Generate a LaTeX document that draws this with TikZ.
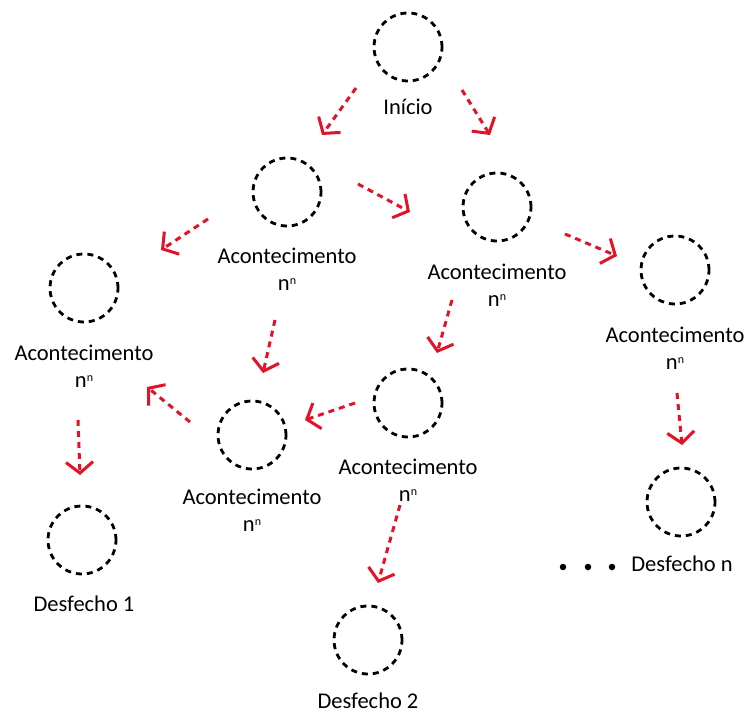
\documentclass[tikz,border=0pt]{standalone}
\usepackage{fontspec}
\setmainfont{Carlito}
\usetikzlibrary{arrows.meta,positioning}

\definecolor{vermelho}{RGB}{228,18,38}
\newcommand{\expn}{n\raisebox{.55ex}{\fontsize{12}{12}\selectfont n}}

\tikzset{
  evento/.style={circle,draw=black,line width=2.8pt,dash pattern=on 6pt off 5pt,minimum size=68pt,inner sep=0pt},
  rotulo/.style={font=\fontsize{22.5}{27}\selectfont,align=center,inner sep=0pt,anchor=north},
  seta/.style={draw=vermelho,line width=3pt,dash pattern=on 6pt off 5pt,-{Straight Barb[length=11pt,width=27pt]}},
  ponto/.style={circle,fill=black,inner sep=0pt,minimum size=6.5pt}
}

\begin{document}
\begin{tikzpicture}[x=1pt,y=-1pt]
              \useasboundingbox (0,0) rectangle (750,717);
              % eventos
              \node[evento](inicio)at(408,47){};
              \node[evento](ac1)at(287,192){};
              \node[evento](ac2)at(497,207){};
              \node[evento](ac3)at(84,288){};
              \node[evento](ac4)at(675,270){};
              \node[evento](ac5)at(408,403){};
              \node[evento](ac6)at(252,435){};
              \node[evento](des1)at(82,540){};
              \node[evento](des2)at(368,640){};
              \node[evento](desn)at(681,502){};
              % rotulos
              \node[rotulo](tinicio)at(408,99){Início};
              \node[rotulo](tac1)at(287,248){Acontecimento\\\expn};
              \node[rotulo](tac2)at(497,264){Acontecimento\\\expn};
              \node[rotulo](tac3)at(84,345){Acontecimento\\\expn};
              \node[rotulo](tac4)at(675,327){Acontecimento\\\expn};
              \node[rotulo](tac5)at(408,459){Acontecimento\\\expn};
              \node[rotulo](tac6)at(252,489){Acontecimento\\\expn};
              \node[rotulo](tdes1)at(84,596){Desfecho 1};
              \node[rotulo](tdes2)at(368,693){Desfecho 2};
              \node[rotulo](tdesn)at(682,556){Desfecho n};
              \node[ponto](p1)at(563,567){};
              \node[ponto](p2)at(588,567){};
              \node[ponto](p3)at(612,567){};
              % setas
              \coordinate(s1a)at(356,88);  \coordinate(s1b)at(322,135);
              \coordinate(s2a)at(462,90);  \coordinate(s2b)at(490,135);
              \coordinate(s3a)at(208,219); \coordinate(s3b)at(161,250);
              \coordinate(s4a)at(358,184); \coordinate(s4b)at(410,212);
              \coordinate(s5a)at(565,234); \coordinate(s5b)at(617,256);
              \coordinate(s6a)at(275,320); \coordinate(s6b)at(263,373);
              \coordinate(s7a)at(452,300); \coordinate(s7b)at(437,353);
              \coordinate(s8a)at(190,422); \coordinate(s8b)at(147,387);
              \coordinate(s9a)at(355,403); \coordinate(s9b)at(305,420);
              \coordinate(s10a)at(78,420); \coordinate(s10b)at(80,475);
              \coordinate(s11a)at(677,393);\coordinate(s11b)at(682,445);
              \coordinate(s12a)at(400,505);\coordinate(s12b)at(378,583);
              \foreach \s in {1,...,12}
                \draw[seta](s\s a)--(s\s b);
            \end{tikzpicture}
\end{document}
